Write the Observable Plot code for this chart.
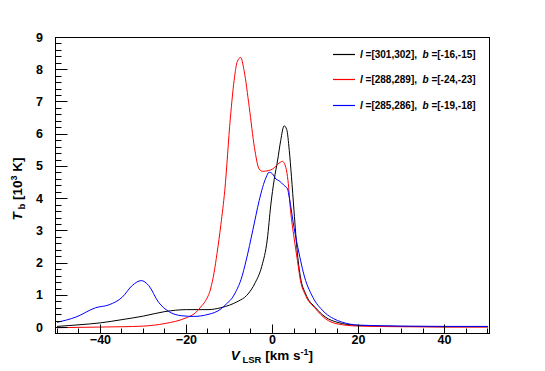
<!DOCTYPE html>
<html><head><meta charset="utf-8">
<script src="https://cdn.jsdelivr.net/npm/d3@7"></script>
<script src="https://cdn.jsdelivr.net/npm/@observablehq/plot@0.6"></script>
<style>body{margin:0;background:#fff} svg{display:block}</style>
</head><body><div id="chart"></div>
<script>
// ---- data ----
const blackV = [-50,-45,-40,-35,-30,-25,-20,-15,-12,-10,-8,-6,-4,-2.5,-1.2,-0.4,0.4,1.2,1.9,2.7,3.3,3.9,4.4,5.0,5.8,6.5,7.7,10,12.3,15,20,30,40,50];
const blackT = [0.04,0.09,0.15,0.25,0.36,0.5,0.56,0.56,0.62,0.7,0.82,1.0,1.4,1.9,2.75,3.8,4.6,5.2,5.8,6.26,6.15,5.5,4.7,3.63,2.29,1.57,1.05,0.62,0.33,0.17,0.07,0.04,0.03,0.03];
const redV = [-50,-45,-40,-35,-30,-25,-20,-18,-16.7,-15.5,-14.4,-13.6,-12.9,-12,-11.1,-9.8,-8.8,-8.2,-7.4,-6.6,-5.4,-4.2,-3.1,-2.3,-1,0,1.5,2.3,3.1,3.6,4.2,5.0,5.8,6.5,7.7,10,12.3,15,20,30,40,50];
const redT = [0.0,0.01,0.02,0.03,0.05,0.13,0.31,0.45,0.64,0.85,1.2,1.7,2.3,3.2,4.25,6.5,7.8,8.25,8.38,7.97,6.83,5.59,4.92,4.85,4.87,4.92,5.1,5.16,4.97,4.56,3.63,2.8,2.08,1.46,1.0,0.59,0.28,0.12,0.05,0.03,0.02,0.02];
const blueV = [-50,-45.7,-41.1,-38,-34.9,-32.6,-30.5,-28.8,-26.5,-24.2,-21.1,-18.4,-15,-11.9,-10.7,-9.5,-8.4,-7.3,-6.1,-4.6,-3.1,-2.3,-1.5,-0.8,0,0.8,1.5,2.7,3.5,3.9,5.0,6.2,7.7,8.8,10,11.2,12.3,14.2,16,20,30,40,50];
const blueT = [0.17,0.33,0.62,0.71,0.95,1.31,1.46,1.31,0.79,0.51,0.37,0.35,0.41,0.59,0.74,0.9,1.15,1.5,2.1,3.01,3.94,4.35,4.66,4.82,4.77,4.61,4.56,4.41,4.3,4.04,3.11,2.29,1.46,1.1,0.8,0.6,0.45,0.28,0.18,0.08,0.05,0.04,0.04];

const lRanges = ["301,302","288,289","285,286"];
const bRanges = ["-16,-15","-24,-23","-19,-18"];
const colors = ["#000000","#ff0000","#0000ff"];

const xMajor = [-40,-20,0,20,40];
const xMinor = [-50,-45,-35,-30,-25,-15,-10,-5,5,10,15,25,30,35,45,50];
const yMajor = [0,1,2,3,4,5,6,7,8,9];
const yMinor = d3.range(0,45).map(i => +(i*0.2).toFixed(1)).filter(v => !Number.isInteger(v));

// ---- build ----
const seriesV = [blackV, redV, blueV];
const seriesT = [blackT, redT, blueT];
const rows = seriesV.map((vs, i) => vs.map((v, j) => ({v, t: seriesT[i][j]})));

const W = 545, H = 371, mL = 55, mR = 56, mT = 37, mB = 38;
const xDom = [-50.45, 50.45], yDom = [-0.18, 9];
const fmt = d => d < 0 ? "\u2212" + (-d) : String(d);
const font = "'Liberation Sans', Arial, sans-serif";

const plot = Plot.plot({
  width: W, height: H,
  marginLeft: mL, marginRight: mR, marginTop: mT, marginBottom: mB,
  x: {domain: xDom, axis: null},
  y: {domain: yDom, axis: null},
  style: {fontFamily: font, background: "#fff", color: "#000"},
  marks: [
    ...rows.map((r, i) => Plot.line(r, {x: "v", y: "t", stroke: colors[i], strokeWidth: 1, curve: "monotone-x"})),
    Plot.text(xMajor, {x: d => d, text: d => fmt(d), frameAnchor: "bottom", dy: 10, fontSize: 12.5, fontWeight: "bold", fill: "#000"}),
    Plot.text(yMajor, {y: d => d, text: d => String(d), frameAnchor: "left", textAnchor: "end", dx: -12.5, fontSize: 12.5, fontWeight: "bold", fill: "#000"}),
    Plot.frame({stroke: "#000", strokeWidth: 1})
  ]
});

const svg = d3.select(plot);
const sx = plot.scale("x"), sy = plot.scale("y");
const bottom = H - mB, left = mL;

// inward tick marks, placed with the chart's own scales
let tickPath = "";
const addX = (v, len) => { const px = Math.round(sx.apply(v)) + 0.5; tickPath += `M${px},${bottom}V${bottom - len}`; };
const addY = (v, len) => { const py = Math.round(sy.apply(v)) + 0.5; tickPath += `M${left},${py}H${left + len}`; };
xMajor.forEach(v => addX(v, 8.5));
xMinor.forEach(v => addX(v, 4.5));
yMajor.forEach(v => addY(v, 12.5));
yMinor.forEach(v => addY(v, 6.5));
svg.append("path").attr("d", tickPath).attr("fill", "none").attr("stroke", "#000").attr("stroke-width", 1);

// x-axis title
const xt = svg.append("text").attr("x", 313).attr("y", 360).attr("text-anchor", "end")
  .attr("font-family", font).attr("font-weight", "bold").attr("font-size", 13.5).attr("fill", "#000");
xt.append("tspan").attr("font-style", "italic").text("V");
xt.append("tspan").attr("font-size", 9.5).attr("dy", 3).text(" LSR");
xt.append("tspan").attr("dy", -3).text(" [km s");
xt.append("tspan").attr("font-size", 9).attr("dy", -5).text("-1");
xt.append("tspan").attr("dy", 5).text("]");

// y-axis title
const yt = svg.append("text").attr("transform", "translate(22,189) rotate(-90)").attr("text-anchor", "middle")
  .attr("font-family", font).attr("font-weight", "bold").attr("font-size", 13.5).attr("fill", "#000");
yt.append("tspan").attr("font-style", "italic").text("T");
yt.append("tspan").attr("font-size", 9.5).attr("dy", 3).text(" b");
yt.append("tspan").attr("dy", -3).text(" [10");
yt.append("tspan").attr("font-size", 9).attr("dy", -5).text("3");
yt.append("tspan").attr("dy", 5).text(" K]");

// legend
const ly = [54.5, 79.5, 105.5];
lRanges.forEach((l, i) => {
  svg.append("path").attr("d", `M333,${ly[i]}H355`).attr("fill", "none")
    .attr("stroke", colors[i]).attr("stroke-width", 1.2);
  const t = svg.append("text").attr("x", 360).attr("y", ly[i] + 3.6).attr("text-anchor", "start")
    .attr("font-family", font).attr("font-weight", "bold").attr("font-size", 10).attr("fill", "#000")
    .style("white-space", "pre");
  t.append("tspan").attr("font-style", "italic").text("l");
  t.append("tspan").text(" =[" + l + "],  ");
  t.append("tspan").attr("font-style", "italic").text("b");
  t.append("tspan").text(" =[" + bRanges[i] + "]");
});

document.getElementById("chart").appendChild(plot);
</script></body></html>
